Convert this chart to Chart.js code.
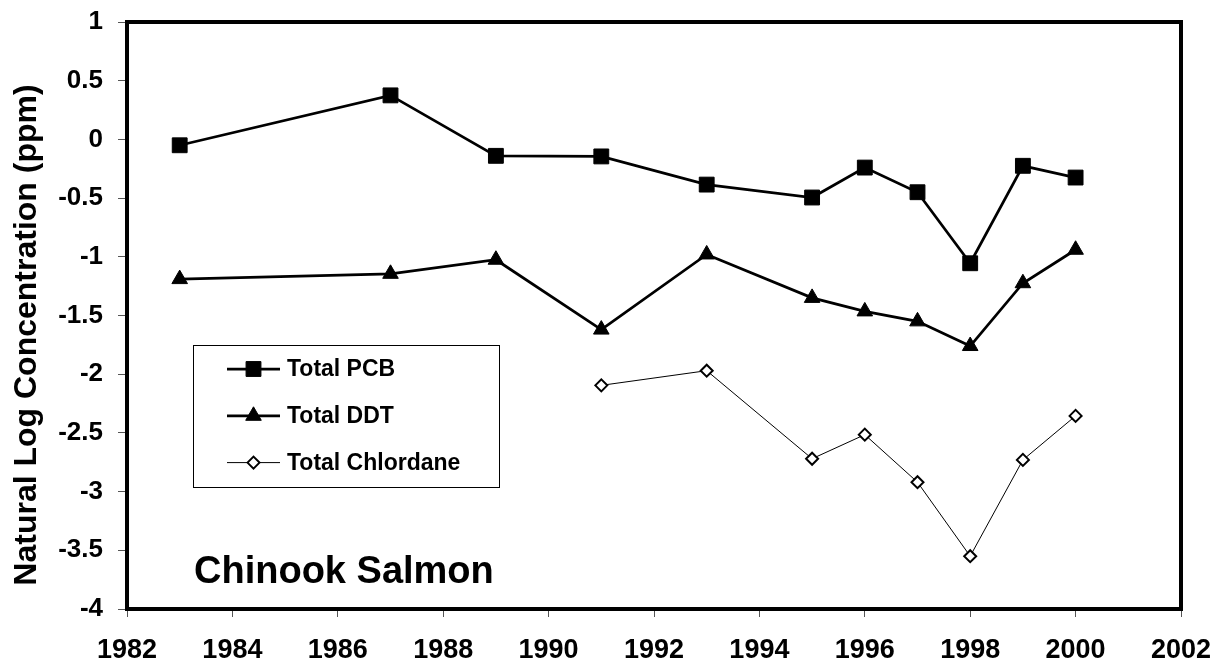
<!DOCTYPE html>
<html>
<head>
<meta charset="utf-8">
<title>Chinook Salmon</title>
<script src="https://cdn.jsdelivr.net/npm/chart.js@4/dist/chart.umd.min.js"></script>
<style>
  body { margin: 0; background: #fff; }
  #wrap { width: 1225px; height: 664px; }
</style>
</head>
<body>
<div id="wrap"><canvas id="salmonChart" width="1225" height="664"></canvas></div>
<script>
// Contaminant series (natural log of ppm)
const pcbYears = [1983, 1987, 1989, 1991, 1993, 1995, 1996, 1997, 1998, 1999, 2000];
const pcbValues = [-0.05, 0.375, -0.14, -0.145, -0.385, -0.495, -0.24, -0.45, -1.055, -0.225, -0.325];

const ddtYears = [1983, 1987, 1989, 1991, 1993, 1995, 1996, 1997, 1998, 1999, 2000];
const ddtValues = [-1.19, -1.145, -1.025, -1.62, -0.98, -1.35, -1.465, -1.55, -1.76, -1.225, -0.94];

const chlordaneYears = [1991, 1993, 1995, 1996, 1997, 1998, 1999, 2000];
const chlordaneValues = [-2.095, -1.97, -2.72, -2.515, -2.92, -3.55, -2.73, -2.355];

const seriesNames = ['Total PCB', 'Total DDT', 'Total Chlordane'];
const yTitle = 'Natural Log Concentration (ppm)';
const speciesLabel = 'Chinook Salmon';

const FONT = "'Liberation Sans', Arial, Helvetica, sans-serif";

function toPoints(xs, ys) {
    return xs.map((x, i) => ({ x: x, y: ys[i] }));
}

// Heavy frame around the plot area
const frameBox = {
    id: 'frameBox',
    afterDraw(chart) {
        const { ctx, chartArea: a } = chart;
        ctx.save();
        ctx.strokeStyle = '#000';
        ctx.lineWidth = 4;
        ctx.strokeRect(a.left, a.top, a.right - a.left, a.bottom - a.top);

        // rotated y axis title
        ctx.translate(27, 335);
        ctx.rotate(-Math.PI / 2);
        ctx.font = 'bold 32px ' + FONT;
        ctx.fillStyle = '#000';
        ctx.textAlign = 'center';
        ctx.textBaseline = 'middle';
        ctx.fillText(yTitle, 0, 0);
        ctx.restore();
    }
};

// Boxed legend inside the plot plus the species caption
const innerLegend = {
    id: 'innerLegend',
    afterDatasetsDraw(chart) {
        const ctx = chart.ctx;
        const box = { x: 193.5, y: 345.5, w: 306, h: 142 };
        ctx.save();
        ctx.fillStyle = '#fff';
        ctx.fillRect(box.x, box.y, box.w, box.h);
        ctx.strokeStyle = '#000';
        ctx.lineWidth = 1;
        ctx.strokeRect(box.x, box.y, box.w, box.h);

        chart.data.datasets.forEach((ds, i) => {
            const cy = 369 + i * 46.8;
            ctx.strokeStyle = '#000';
            ctx.lineWidth = ds.borderWidth;
            ctx.beginPath();
            ctx.moveTo(227, cy);
            ctx.lineTo(280, cy);
            ctx.stroke();

            ctx.fillStyle = ds.pointBackgroundColor;
            ctx.strokeStyle = ds.pointBorderColor;
            ctx.lineWidth = ds.pointBorderWidth;
            Chart.helpers.drawPoint(ctx, {
                pointStyle: ds.pointStyle,
                radius: ds.pointRadius,
                rotation: 0,
                borderWidth: ds.pointBorderWidth
            }, 253.5, cy);

            ctx.fillStyle = '#000';
            ctx.font = 'bold 23px ' + FONT;
            ctx.textAlign = 'left';
            ctx.textBaseline = 'middle';
            ctx.fillText(ds.label, 287, cy + 1);
        });

        ctx.font = 'bold 38px ' + FONT;
        ctx.textAlign = 'left';
        ctx.textBaseline = 'alphabetic';
        ctx.fillStyle = '#000';
        ctx.fillText(speciesLabel, 194, 583);
        ctx.restore();
    }
};

const ctx = document.getElementById('salmonChart');

new Chart(ctx, {
    type: 'line',
    data: {
        datasets: [
            {
                label: seriesNames[0],
                data: toPoints(pcbYears, pcbValues),
                borderColor: '#000',
                borderWidth: 2.75,
                pointStyle: 'rect',
                pointRadius: 10.5,
                pointBackgroundColor: '#000',
                pointBorderColor: '#000',
                pointBorderWidth: 1
            },
            {
                label: seriesNames[1],
                data: toPoints(ddtYears, ddtValues),
                borderColor: '#000',
                borderWidth: 2.75,
                pointStyle: 'triangle',
                pointRadius: 9,
                pointBackgroundColor: '#000',
                pointBorderColor: '#000',
                pointBorderWidth: 1
            },
            {
                label: seriesNames[2],
                data: toPoints(chlordaneYears, chlordaneValues),
                borderColor: '#000',
                borderWidth: 1,
                pointStyle: 'rectRot',
                pointRadius: 6,
                pointBackgroundColor: '#fff',
                pointBorderColor: '#000',
                pointBorderWidth: 2
            }
        ]
    },
    options: {
        responsive: false,
        animation: false,
        layout: { padding: { top: 22, right: 44, bottom: 0, left: 0 } },
        plugins: {
            legend: { display: false },
            tooltip: { enabled: false }
        },
        elements: { line: { tension: 0 } },
        scales: {
            x: {
                type: 'linear',
                min: 1982,
                max: 2002,
                afterFit(scale) {
                    scale.height = 55;
                    scale.paddingLeft = 0;
                    scale.paddingRight = 0;
                },
                border: { display: false },
                grid: {
                    drawOnChartArea: false,
                    drawTicks: true,
                    tickLength: 8,
                    color: '#555',
                    lineWidth: 1
                },
                ticks: {
                    stepSize: 2,
                    color: '#000',
                    padding: 17,
                    maxRotation: 0,
                    font: { family: FONT, size: 27, weight: 'bold' },
                    callback: v => String(v)
                }
            },
            y: {
                min: -4,
                max: 1,
                afterFit(scale) {
                    scale.width = 127;
                    scale.paddingTop = 0;
                    scale.paddingBottom = 0;
                },
                border: { display: false },
                grid: {
                    drawOnChartArea: false,
                    drawTicks: true,
                    tickLength: 9,
                    color: '#555',
                    lineWidth: 1
                },
                ticks: {
                    stepSize: 0.5,
                    color: '#000',
                    padding: 15,
                    font: { family: FONT, size: 26, weight: 'bold' },
                    callback: v => String(Number(v.toFixed(1)))
                }
            }
        }
    },
    plugins: [frameBox, innerLegend]
});
</script>
</body>
</html>
